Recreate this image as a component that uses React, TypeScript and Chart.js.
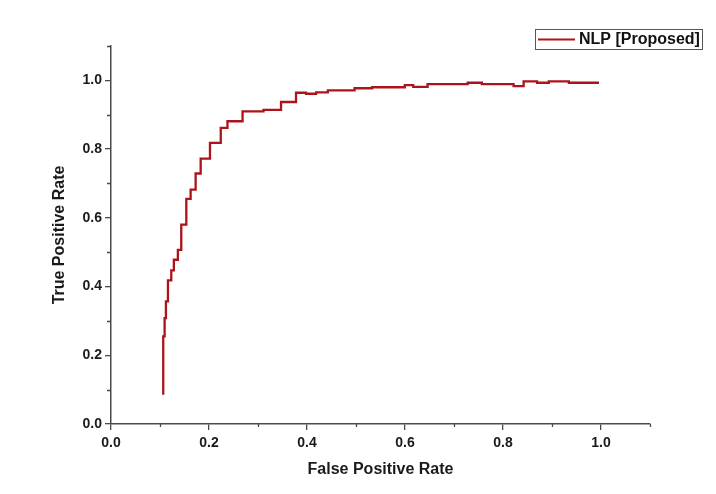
import React, { useEffect, useRef } from "react";
import { Chart, registerables } from "chart.js";

Chart.register(...registerables);

const seriesLabel = "NLP [Proposed]";
const fpr = [
  0.1066, 0.1066, 0.1094, 0.1121, 0.1162, 0.123, 0.1283, 0.1365, 0.1434, 0.1537,
  0.1625, 0.1727, 0.183, 0.202, 0.224, 0.2377, 0.2685, 0.3113, 0.347, 0.3776,
  0.3981, 0.4186, 0.4426, 0.4971, 0.5328, 0.5996, 0.6168, 0.6461, 0.728, 0.7568,
  0.8216, 0.8421, 0.8695, 0.8934, 0.9344, 0.9549, 0.9959,
];
const tpr = [
  0.085, 0.19, 0.255, 0.308, 0.357, 0.418, 0.447, 0.478, 0.507, 0.58,
  0.655, 0.682, 0.729, 0.772, 0.818, 0.862, 0.881, 0.91, 0.914, 0.937,
  0.964, 0.961, 0.965, 0.971, 0.977, 0.98, 0.986, 0.981, 0.989, 0.993,
  0.989, 0.983, 0.997, 0.993, 0.997, 0.993, 0.993,
];
const axisMin = 0;
const axisMax = 1.1;
const tickStep = 0.1;
const xTitle = "False Positive Rate";
const yTitle = "True Positive Rate";

const LINE_COLOR = "#ab141b";
const AXIS_COLOR = "#4a4a4a";
const FONT = "'Liberation Sans', Arial, sans-serif";

const isMajor = (v: number) => Math.round(Number(v) * 10) % 2 === 0;
const tickLabel = (v: number) => {
  const n = Math.round(Number(v) * 10);
  return n % 2 === 0 && n <= 10 ? (n / 10).toFixed(1) : "";
};

const minorTickPlugin = {
  id: "minorTicks",
  afterDraw(chart: any) {
    const ctx = chart.ctx;
    ctx.save();
    ctx.strokeStyle = AXIS_COLOR;
    ctx.lineWidth = 1.3;
    const xs = chart.scales.x;
    const ys = chart.scales.y;
    ctx.beginPath();
    xs.ticks.forEach((t: any) => {
      if (isMajor(t.value)) return;
      const px = Math.round(xs.getPixelForValue(t.value)) + 0.5;
      ctx.moveTo(px, xs.top);
      ctx.lineTo(px, xs.top + 3);
    });
    ys.ticks.forEach((t: any) => {
      if (isMajor(t.value)) return;
      const py = Math.round(ys.getPixelForValue(t.value)) + 0.5;
      ctx.moveTo(ys.right, py);
      ctx.lineTo(ys.right - 4, py);
    });
    ctx.stroke();
    ctx.restore();
  },
};

const legendPlugin = {
  id: "boxLegend",
  afterDraw(chart: any) {
    const ctx = chart.ctx;
    const ds = chart.data.datasets[0];
    ctx.save();
    ctx.strokeStyle = "#555";
    ctx.lineWidth = 1;
    ctx.strokeRect(535.5, 29.5, 167, 20);
    ctx.strokeStyle = ds.borderColor;
    ctx.lineWidth = 2;
    ctx.beginPath();
    ctx.moveTo(538, 39.5);
    ctx.lineTo(575, 39.5);
    ctx.stroke();
    ctx.fillStyle = "#111";
    ctx.font = `bold 16px ${FONT}`;
    ctx.textBaseline = "middle";
    ctx.textAlign = "left";
    ctx.fillText(ds.label, 579, 40);
    ctx.restore();
  },
};

export default function App() {
  const ref = useRef<HTMLCanvasElement | null>(null);
  useEffect(() => {
    if (!ref.current) return;
    const points = fpr.map((x, i) => ({ x, y: tpr[i] }));
    const axisCommon = (title: string) => ({
      type: "linear" as const,
      min: axisMin,
      max: axisMax,
      ticks: {
        stepSize: tickStep,
        autoSkip: false,
        color: "#1a1a1a",
        font: { family: FONT, size: 14, weight: "bold" as const },
        callback: (v: any) => tickLabel(v),
      },
      grid: {
        drawOnChartArea: false,
        drawTicks: true,
        tickLength: 6,
        color: AXIS_COLOR,
        tickColor: (c: any) =>
          c.tick && isMajor(c.tick.value) ? AXIS_COLOR : "rgba(0,0,0,0)",
        lineWidth: 1.3,
      },
      border: { display: true, color: AXIS_COLOR, width: 1.5 },
      title: {
        display: true,
        text: title,
        color: "#1a1a1a",
        font: { family: FONT, size: 16, weight: "bold" as const },
      },
    });
    const xAxis: any = axisCommon(xTitle);
    xAxis.position = "bottom";
    xAxis.ticks.padding = 5;
    xAxis.ticks.maxRotation = 0;
    xAxis.title.padding = { top: 0, bottom: 15 };
    xAxis.afterFit = (s: any) => {
      s.height = 70;
    };
    const yAxis: any = axisCommon(yTitle);
    yAxis.position = "left";
    yAxis.ticks.padding = 3;
    yAxis.title.padding = { top: 50, bottom: 0 };
    yAxis.afterFit = (s: any) => {
      s.width = 111;
    };

    const chart = new Chart(ref.current, {
      type: "line",
      data: {
        datasets: [
          {
            label: seriesLabel,
            data: points,
            borderColor: LINE_COLOR,
            backgroundColor: LINE_COLOR,
            borderWidth: 2.3,
            pointRadius: 0,
            stepped: "after",
            fill: false,
          },
        ],
      },
      options: {
        animation: false,
        responsive: true,
        maintainAspectRatio: false,
        layout: { padding: { left: 0, top: 46, right: 66, bottom: 0 } },
        plugins: {
          legend: { display: false },
          tooltip: { enabled: false },
        },
        scales: { x: xAxis, y: yAxis },
      },
      plugins: [minorTickPlugin, legendPlugin],
    });
    return () => chart.destroy();
  }, []);

  return (
    <div
      style={{
        position: "fixed",
        left: 0,
        top: 0,
        width: 716,
        height: 494,
        background: "#fff",
      }}
    >
      <canvas ref={ref} />
    </div>
  );
}
